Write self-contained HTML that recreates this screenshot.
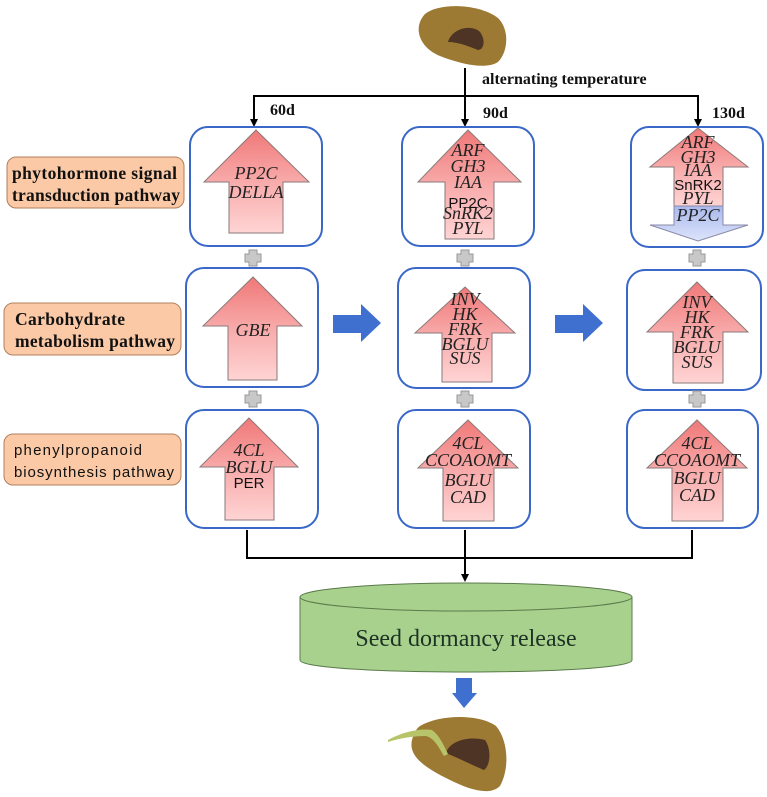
<!DOCTYPE html>
<html><head><meta charset="utf-8"><style>
body{margin:0;background:#fff}
svg{display:block}
.it{font-family:"Liberation Serif",serif;font-style:italic;font-size:18px;fill:#222}
.sn{font-family:"Liberation Sans",sans-serif;font-size:15px;fill:#111}
.lb{font-family:"Liberation Serif",serif;font-weight:bold;font-size:16px;fill:#111}
</style></head><body>
<svg width="767" height="797" viewBox="0 0 767 797" xmlns="http://www.w3.org/2000/svg">
<defs>
<linearGradient id="pk" x1="0" y1="0" x2="0" y2="1"><stop offset="0" stop-color="#f07878"/><stop offset="0.5" stop-color="#f8aaaa"/><stop offset="1" stop-color="#ffd4d4"/></linearGradient>
<linearGradient id="bl" x1="0" y1="0" x2="0" y2="1"><stop offset="0" stop-color="#a9b8ec"/><stop offset="1" stop-color="#dde4fa"/></linearGradient>
<g id="plus"><path d="M-4,-8 h8 v4 h4 v8 h-4 v4 h-8 v-4 h-4 v-8 h4 Z" fill="#c8c8c8" stroke="#999" stroke-width="1"/></g>
</defs>

<!-- top seed -->
<path d="M425,14 C440,2 480,4 498,18 C510,30 508,52 498,62 C486,70 460,64 440,56 C420,48 412,28 425,14 Z" fill="#9c7a33"/>
<path d="M448,42 C452,28 472,24 480,32 C486,40 484,50 478,50 C468,46 458,42 448,42 Z" fill="#4e3424"/>

<!-- connectors top -->
<line x1="465" y1="68" x2="465" y2="120" stroke="#000" stroke-width="2"/>
<polyline points="254,120 254,96 698,96 698,120" fill="none" stroke="#000" stroke-width="2"/>
<path d="M250,119 L258,119 L254,127 Z M461,119 L469,119 L465,127 Z M694,119 L702,119 L698,127 Z" fill="#000"/>
<text x="482" y="84" class="lb">alternating temperature</text>
<text x="270" y="115" class="lb">60d</text>
<text x="483" y="118" class="lb">90d</text>
<text x="712" y="118" class="lb">130d</text>

<!-- left labels -->
<g font-family="Liberation Serif,serif" font-weight="bold" font-size="17.5" fill="#111">
<rect x="7" y="157" width="177" height="51" rx="9" fill="#fbc9a5" stroke="#b07f5c"/>
<text x="12" y="179" textLength="165">phytohormone signal</text>
<text x="12" y="201" textLength="168">transduction pathway</text>
<rect x="4" y="303" width="177" height="52" rx="9" fill="#fbc9a5" stroke="#b07f5c"/>
<text x="15" y="325" textLength="110">Carbohydrate</text>
<text x="15" y="347" textLength="160">metabolism pathway</text>
</g>
<rect x="4" y="434" width="177" height="51" rx="9" fill="#fbc9a5" stroke="#b07f5c"/>
<text x="14" y="455" class="sn" font-size="16.5" textLength="128">phenylpropanoid</text>
<text x="14" y="477" class="sn" font-size="16.5" textLength="160">biosynthesis pathway</text>

<!-- boxes -->
<g fill="#fff" stroke="#3a68c8" stroke-width="2">
<rect x="190" y="127" width="132" height="119" rx="18"/>
<rect x="402" y="127" width="132" height="119" rx="18"/>
<rect x="631" y="127" width="132" height="120" rx="18"/>
<rect x="186" y="268" width="132" height="119" rx="18"/>
<rect x="398" y="268" width="132" height="120" rx="18"/>
<rect x="627" y="270" width="134" height="120" rx="18"/>
<rect x="186" y="410" width="132" height="118" rx="18"/>
<rect x="398" y="410" width="132" height="118" rx="18"/>
<rect x="627" y="410" width="131" height="118" rx="18"/>
</g>

<!-- pluses -->
<use href="#plus" x="253" y="258"/><use href="#plus" x="465" y="258"/><use href="#plus" x="697" y="258"/>
<use href="#plus" x="253" y="399"/><use href="#plus" x="465" y="399"/><use href="#plus" x="697" y="399"/>

<!-- up arrows -->
<g fill="url(#pk)" stroke="#8a7a7a" stroke-width="1">
<path d="M256,130 L309,182 L283,182 L283,233 L229,233 L229,182 L204,182 Z"/>
<path d="M468,130 L521,182 L494,182 L494,239 L445,239 L445,182 L418,182 Z"/>
<path d="M253,277 L302,326 L277,326 L277,380 L228,380 L228,326 L203,326 Z"/>
<path d="M465,287 L515,333 L492,333 L492,382 L442,382 L442,333 L415,333 Z"/>
<path d="M697,282 L748,332 L723,332 L723,383 L673,383 L673,332 L647,332 Z"/>
<path d="M249,418 L298,467 L274,467 L274,520 L225,520 L225,467 L200,467 Z"/>
<path d="M468,420 L518,468 L494,468 L494,521 L443,521 L443,468 L418,468 Z"/>
<path d="M697,420 L747,468 L723,468 L723,521 L672,521 L672,468 L647,468 Z"/>
<path d="M698,128 L748,167 L723,167 L723,206 L674,206 L674,167 L650,167 Z"/>
</g>
<path d="M674,206 L723,206 L723,225 L748,225 L698,241 L650,225 L674,225 Z" fill="url(#bl)" stroke="#8a8aa8" stroke-width="1"/>

<!-- arrow texts -->
<g class="it" text-anchor="middle">
<text x="256" y="179">PP2C</text><text x="256" y="198">DELLA</text>
<text x="468" y="156">ARF</text><text x="468" y="172">GH3</text><text x="468" y="188">IAA</text>
<text x="468" y="219">SnRK2</text><text x="468" y="234">PYL</text>
<text x="698" y="148">ARF</text><text x="698" y="163">GH3</text><text x="698" y="176">IAA</text>
<text x="698" y="204">PYL</text><text x="698" y="221">PP2C</text>
<text x="253" y="336">GBE</text>
<text x="465" y="305">INV</text><text x="465" y="320">HK</text><text x="465" y="335">FRK</text><text x="465" y="350">BGLU</text><text x="465" y="364">SUS</text>
<text x="697" y="308">INV</text><text x="697" y="323">HK</text><text x="697" y="338">FRK</text><text x="697" y="353">BGLU</text><text x="697" y="368">SUS</text>
<text x="249" y="456">4CL</text><text x="249" y="473">BGLU</text>
<text x="468" y="449">4CL</text><text x="468" y="466">CCOAOMT</text><text x="468" y="486">BGLU</text><text x="468" y="503">CAD</text>
<text x="697" y="449">4CL</text><text x="697" y="466">CCOAOMT</text><text x="697" y="484">BGLU</text><text x="697" y="501">CAD</text>
</g>
<g class="sn" text-anchor="middle">
<text x="468" y="208">PP2C</text>
<text x="698" y="190">SnRK2</text>
<text x="249" y="488">PER</text>
</g>

<!-- blue right arrows -->
<path d="M333,315 L361,315 L361,304 L381,323 L361,342 L361,333 L333,333 Z" fill="#3f6fcf"/>
<path d="M555,315 L583,315 L583,304 L603,323 L583,342 L583,333 L555,333 Z" fill="#3f6fcf"/>

<!-- bottom connectors -->
<polyline points="247,530 247,558 692,558 692,530" fill="none" stroke="#000" stroke-width="2"/>
<line x1="465" y1="530" x2="465" y2="574" stroke="#000" stroke-width="2"/>
<path d="M461,574 L469,574 L465,582 Z" fill="#000"/>

<!-- cylinder -->
<path d="M300,597 L300,660 C300,676 632,676 632,660 L632,597 Z" fill="#a9d18e" stroke="#5a7a4a" stroke-width="1"/>
<ellipse cx="466" cy="597" rx="166" ry="14" fill="#a9d18e" stroke="#5a7a4a" stroke-width="1"/>
<text x="466" y="646" text-anchor="middle" font-family="Liberation Serif,serif" font-size="24" fill="#1d3324">Seed dormancy release</text>

<!-- blue down arrow -->
<path d="M456,678 L472,678 L472,693 L477,693 L464,708 L452,693 L456,693 Z" fill="#3f6fcf"/>

<!-- bottom seed -->
<path d="M420,726 C440,714 480,714 496,726 C508,740 510,768 500,786 C490,796 470,790 450,780 C425,768 408,756 412,740 C414,733 416,729 420,726 Z" fill="#9c7a33"/>
<path d="M446,753 C450,740 470,736 485,740 C492,750 490,766 484,770 C470,764 458,758 446,753 Z" fill="#4e3424"/>
<path d="M388,740 C402,732 420,728 432,730 C440,736 444,746 448,754 L444,756 C438,746 434,738 426,736 C414,736 400,738 388,742 Z" fill="#b8c46a"/>
</svg>
</body></html>
